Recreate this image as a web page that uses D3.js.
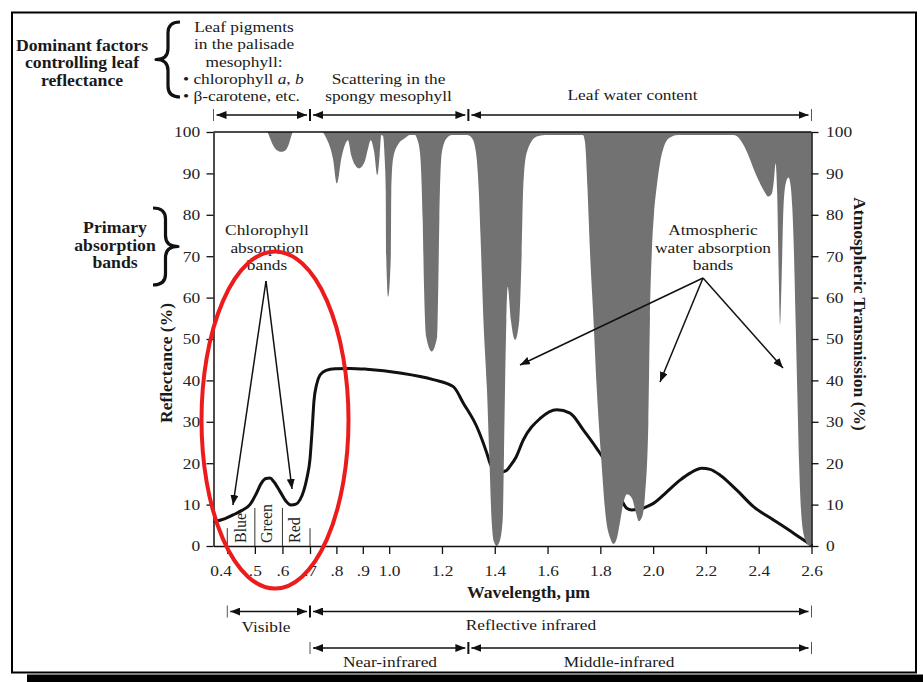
<!DOCTYPE html>
<html>
<head>
<meta charset="utf-8">
<script src="https://cdn.jsdelivr.net/npm/d3@7"></script>
<style>
  body { margin: 0; background: #fff; }
  svg { display: block; font-family: "Liberation Serif", "Times New Roman", serif; }
</style>
</head>
<body>
<svg id="chart" width="923" height="682"></svg>
<script>
// ---- Leaf reflectance curve (wavelength µm, reflectance %) ----
const reflWave = [
  0.355, 0.392, 0.421, 0.453, 0.482, 0.504, 0.522, 0.540, 0.555, 0.569,
  0.591, 0.613, 0.631, 0.649, 0.664, 0.678, 0.689, 0.700, 0.708, 0.715,
  0.725, 0.738, 0.761, 0.795, 0.852, 0.915, 1.041, 1.167, 1.243, 1.281,
  1.332, 1.370, 1.383, 1.405, 1.427, 1.443, 1.458, 1.481, 1.508, 1.572,
  1.635, 1.685, 1.736, 1.786, 1.818, 1.852, 1.887, 1.900, 1.919, 1.939,
  1.958, 1.976, 2.001, 2.049, 2.102, 2.140, 2.184, 2.216, 2.254, 2.317,
  2.380, 2.456, 2.532, 2.569, 2.600
];
const reflValue = [
  5.9, 6.6, 7.5, 8.6, 10.0, 12.5, 15.0, 16.3, 16.4, 15.5,
  13.2, 10.8, 9.9, 10.1, 11.2, 13.5, 16.5, 21.0, 28.0, 35.0,
  39.0, 41.3, 42.4, 42.8, 42.9, 42.7, 41.8, 40.2, 38.5, 34.5,
  28.8, 22.4, 19.8, 18.0, 17.9, 18.2, 19.3, 21.5, 25.6, 30.8,
  32.9, 32.1, 28.0, 23.6, 20.4, 15.5, 10.3, 9.1, 8.7, 8.8,
  9.0, 9.5, 10.3, 12.9, 15.9, 17.6, 18.8, 18.5, 17.1, 13.5,
  9.5, 6.3, 3.1, 1.5, 0.2
];

// ---- Atmospheric transmission (wavelength µm, transmission %) ----
const transWave = [
  0.350, 0.544, 0.555, 0.566, 0.580, 0.597, 0.613, 0.624, 0.631, 0.638,
  0.745, 0.762, 0.787, 0.802, 0.819, 0.833, 0.844, 0.856, 0.871, 0.885,
  0.907, 0.920, 0.930, 0.943, 0.955, 0.964, 0.970, 0.977, 0.983, 0.987,
  0.989, 0.996, 1.006, 1.008, 1.015, 1.033, 1.059, 1.079, 1.098, 1.105,
  1.117, 1.127, 1.132, 1.140, 1.161, 1.182, 1.186, 1.190, 1.199, 1.218,
  1.238, 1.295, 1.314, 1.329, 1.340, 1.346, 1.357, 1.370, 1.379, 1.388,
  1.397, 1.407, 1.418, 1.430, 1.435, 1.439, 1.444, 1.449, 1.461, 1.477,
  1.493, 1.502, 1.508, 1.521, 1.559, 1.590, 1.734, 1.742, 1.745, 1.751,
  1.761, 1.774, 1.786, 1.802, 1.822, 1.837, 1.850, 1.863, 1.875, 1.886,
  1.901, 1.920, 1.935, 1.946, 1.958, 1.969, 1.982, 1.988, 1.995, 2.003,
  2.014, 2.026, 2.041, 2.064, 2.094, 2.303, 2.318, 2.342, 2.360, 2.380,
  2.398, 2.418, 2.437, 2.450, 2.457, 2.464, 2.470, 2.476, 2.481, 2.487,
  2.494, 2.504, 2.513, 2.521, 2.527, 2.532, 2.540, 2.547, 2.553, 2.563,
  2.576, 2.587, 2.600
];
const transValue = [
  100, 100, 98.5, 96.8, 95.6, 95.2, 95.7, 97.2, 98.8, 100,
  100, 98.5, 93.6, 87.6, 93.7, 97, 98, 94.4, 92, 91.2,
  92.8, 96, 98, 95.2, 89.6, 94.4, 99.3, 99, 93.6, 85.6,
  69.5, 60.2, 69.5, 85.6, 93.6, 96.9, 98.5, 99.3, 99.3, 98.5,
  94.8, 78.7, 62.6, 50.6, 47, 50.6, 62.6, 78.7, 94.8, 98.5,
  99.3, 99.3, 98.5, 95, 85, 75, 54.6, 38.5, 22.4, 6.3,
  1, 0, 1, 6.3, 22.4, 38.5, 54.6, 62.6, 54.6, 49.8,
  54.6, 70.8, 86.8, 95, 98.9, 99.3, 99.3, 97.5, 95, 86.8,
  70.8, 54.6, 38.5, 22.4, 6.3, 2, 0.5, 2, 6, 10,
  12.5, 11.5, 8, 6, 7, 12, 30, 55, 71, 80,
  87, 92.5, 96.5, 98.7, 99.3, 99.3, 99, 96.9, 94.5, 91.2,
  88.5, 86, 84.4, 85.2, 88, 92.4, 85, 65, 53.4, 65,
  82, 88, 89, 87, 82, 74, 54, 35, 20, 6.3,
  1.5, 0.3, 0
];

// ---- Axis ticks ----
const xTickValues = [0.4, 0.5, 0.6, 0.7, 0.8, 0.9, 1.0, 1.2, 1.4, 1.6, 1.8, 2.0, 2.2, 2.4, 2.6];
const xTickLabels = ["0.4", ".5", ".6", ".7", ".8", ".9", "1.0", "1.2", "1.4", "1.6", "1.8", "2.0", "2.2", "2.4", "2.6"];
const yTickValues = [0, 10, 20, 30, 40, 50, 60, 70, 80, 90, 100];

// ---- Spectral regions (µm) ----
const colourBands = ["Blue", "Green", "Red"];
const colourEdges = [0.4, 0.5, 0.6, 0.7];
const factorSpans = [[0.35, 0.7], [0.7, 1.3], [1.3, 2.6]];
const regionSpans = [[0.4, 0.7], [0.7, 2.6]];
const infraredSpans = [[0.7, 1.3], [1.3, 2.6]];

const svg = d3.select("#chart");
const INK = "#111";
const FONT = 15.5;      // body text size
const BOLD = 15.8;      // heading text size
const SX = 1.12;        // the serif face is set slightly wide
const LH = 17.6;        // line spacing

// Visible part of the axis is drawn slightly wider than the infrared part
const x = d3.scaleLinear().domain([0.35, 0.7, 2.6]).range([213.5, 310, 811.5]);
const y = d3.scaleLinear().domain([0, 100]).range([546, 132]);

// frame with drop shadow
svg.append("rect").attr("x", 27).attr("y", 674.5).attr("width", 896).attr("height", 8).attr("fill", "#000");
svg.append("rect").attr("x", 12).attr("y", 12.5).attr("width", 904).attr("height", 660)
  .attr("fill", "#fff").attr("stroke", "#000").attr("stroke-width", 2);

// arrow heads
const defs = svg.append("defs");
defs.append("marker").attr("id", "head")
  .attr("viewBox", "0 0 10 8").attr("refX", 10).attr("refY", 4)
  .attr("markerWidth", 10).attr("markerHeight", 8)
  .attr("markerUnits", "userSpaceOnUse").attr("orient", "auto-start-reverse")
  .append("path").attr("d", "M0,0 L10,4 L0,8 Z").attr("fill", INK);

// reflectance curve (drawn beneath the transmission bands)
const refl = reflWave.map((w, i) => ({ w, v: reflValue[i] }));
svg.append("path").datum(refl)
  .attr("d", d3.line().x(d => x(d.w)).y(d => y(d.v)).curve(d3.curveMonotoneX))
  .attr("fill", "none").attr("stroke", INK).attr("stroke-width", 3)
  .attr("stroke-linejoin", "round").attr("stroke-linecap", "round");

// atmospheric transmission, hanging from the 100 % line
const trans = transWave.map((w, i) => ({ w, v: transValue[i] }));
svg.append("path").datum(trans)
  .attr("d", d3.area().x(d => x(d.w)).y0(y(100)).y1(d => y(d.v)).curve(d3.curveMonotoneX))
  .attr("fill", "#727272");

// colour band separators and labels
colourEdges.forEach((w, i) => {
  const top = (i === 0 || i === colourEdges.length - 1) ? 4.3 : 9.2;
  svg.append("line").attr("x1", x(w)).attr("x2", x(w)).attr("y1", y(top)).attr("y2", y(0))
    .attr("stroke", "#333").attr("stroke-width", 1);
});
const bandBaselineX = [245.5, 272, 300];
colourBands.forEach((b, i) => {
  svg.append("text").attr("transform", `translate(${bandBaselineX[i]},543) rotate(-90)`)
    .attr("font-size", 16).attr("fill", "#222").text(b);
});

// axes
function styleAxis(g) {
  g.selectAll("path.domain").attr("stroke", INK).attr("stroke-width", 1.5);
  g.selectAll(".tick line").attr("stroke", INK).attr("stroke-width", 1.3);
  g.selectAll(".tick text").attr("font-size", FONT).attr("fill", "#222")
    .attr("font-family", "Liberation Serif, Times New Roman, serif")
    .attr("transform", `scale(${SX},1)`);
}
svg.append("g").attr("transform", `translate(${x(0.35)},0)`)
  .call(d3.axisLeft(y).tickValues(yTickValues).tickSize(7).tickSizeOuter(0).tickPadding(5))
  .call(styleAxis);
svg.append("g").attr("transform", `translate(${x(2.6)},0)`)
  .call(d3.axisRight(y).tickValues(yTickValues).tickSize(7).tickSizeOuter(0).tickPadding(6))
  .call(styleAxis);
const xAxis = svg.append("g").attr("transform", `translate(0,${y(0)})`)
  .call(d3.axisBottom(x).tickValues(xTickValues).tickFormat((d, i) => xTickLabels[i])
    .tickSize(8).tickSizeOuter(0).tickPadding(11))
  .call(styleAxis);
xAxis.selectAll(".tick text").filter((d, i) => i === 0).attr("dx", -6);
// top frame line of the plot
svg.append("line").attr("x1", x(0.35)).attr("x2", x(2.6)).attr("y1", y(100)).attr("y2", y(100))
  .attr("stroke", INK).attr("stroke-width", 1.5);

// text helper: lines of text anchored at (xp, yp), widened by SX
function label(xp, yp, lines, opts = {}) {
  const g = svg.append("g").attr("transform", `translate(${xp},${yp}) scale(${SX},1)`);
  const t = g.append("text").attr("x", 0).attr("y", 0)
    .attr("font-size", opts.bold ? BOLD : FONT)
    .attr("font-weight", opts.bold ? "bold" : "normal")
    .attr("text-anchor", opts.anchor || "middle").attr("fill", "#1a1a1a");
  lines.forEach((ln, i) => {
    const s = t.append("tspan").attr("x", 0).attr("dy", i === 0 ? 0 : LH);
    if (Array.isArray(ln)) {
      ln.forEach(part => s.append("tspan").attr("font-style", part.italic ? "italic" : null).text(part.t));
    } else {
      s.text(ln);
    }
  });
  return t;
}

// span arrows with end bars
function spanRow(spans, yp) {
  const edges = [];
  spans.forEach(s => s.forEach(v => { if (!edges.includes(v)) edges.push(v); }));
  spans.forEach(([a, b]) => {
    svg.append("line").attr("x1", x(a) + 3).attr("x2", x(b) - 3).attr("y1", yp).attr("y2", yp)
      .attr("stroke", INK).attr("stroke-width", 1.6)
      .attr("marker-start", "url(#head)").attr("marker-end", "url(#head)");
  });
  edges.forEach((v, i) => {
    const inner = i > 0 && i < edges.length - 1;
    svg.append("line").attr("x1", x(v)).attr("x2", x(v)).attr("y1", yp - 6).attr("y2", yp + 6)
      .attr("stroke", inner ? INK : "#555").attr("stroke-width", inner ? 2 : 1);
  });
}
spanRow(factorSpans, 115);
spanRow(regionSpans, 611.5);
spanRow(infraredSpans, 648);

// curly braces
function brace(spine, y0, y1, w, dir) {
  const ym = (y0 + y1) / 2, xe = spine - dir * w / 2, xt = spine + dir * w / 2, r = 11;
  const p = `M${xe},${y0} Q${spine},${y0} ${spine},${y0 + r} L${spine},${ym - r} Q${spine},${ym} ${xt},${ym}` +
            ` Q${spine},${ym} ${spine},${ym + r} L${spine},${y1 - r} Q${spine},${y1} ${xe},${y1}`;
  svg.append("path").attr("d", p).attr("fill", "none").attr("stroke", INK)
    .attr("stroke-width", 3.2).attr("stroke-linejoin", "round");
}
brace(168, 22, 97, 24, -1);
brace(165.5, 208, 285, 25, 1);

// headings
label(82, 50.5, ["Dominant factors", "controlling leaf", "reflectance"], { bold: true });
label(244, 31.5, ["Leaf pigments", "in the palisade", "mesophyll:"]);
label(183, 83.5, [
  [{ t: "• chlorophyll " }, { t: "a", italic: true }, { t: ", " }, { t: "b", italic: true }],
  "• β-carotene,  etc."
], { anchor: "start" });
label(388.5, 83.5, ["Scattering in the", "spongy mesophyll"]);
label(632.5, 100, ["Leaf water content"]);

label(115, 233, ["Primary", "absorption", "bands"], { bold: true });
label(267, 235, ["Chlorophyll", "absorption", "bands"]);
label(713, 235, ["Atmospheric", "water absorption", "bands"]);

// pointer arrows
function pointer(x1, y1, x2, y2) {
  svg.append("line").attr("x1", x1).attr("y1", y1).attr("x2", x2).attr("y2", y2)
    .attr("stroke", INK).attr("stroke-width", 1.5).attr("marker-end", "url(#head)");
}
pointer(266, 281, 233, 505);
pointer(266, 281, 292, 489);
pointer(703, 278, 520, 365);
pointer(703, 278, 660, 382);
pointer(703, 278, 783, 368);

// axis titles
svg.append("text").attr("transform", "translate(172,363) rotate(-90)")
  .attr("text-anchor", "middle").attr("font-weight", "bold").attr("font-size", 17.5)
  .attr("fill", "#1a1a1a").text("Reflectance (%)");
svg.append("text").attr("transform", "translate(854,314) rotate(90)")
  .attr("text-anchor", "middle").attr("font-weight", "bold").attr("font-size", 17.5)
  .attr("fill", "#1a1a1a").text("Atmospheric Transmission (%)");
label(528.5, 598, ["Wavelength, μm"], { bold: true });

// region names under the axis
label(266, 632, ["Visible"]);
label(531, 630, ["Reflective infrared"]);
label(390, 667, ["Near-infrared"]);
label(619, 667, ["Middle-infrared"]);

// highlight around the visible chlorophyll absorption region
svg.append("ellipse").attr("cx", 275).attr("cy", 420).attr("rx", 73.5).attr("ry", 168.5)
  .attr("fill", "none").attr("stroke", "#ec1c1c").attr("stroke-width", 4);
</script>
</body>
</html>
